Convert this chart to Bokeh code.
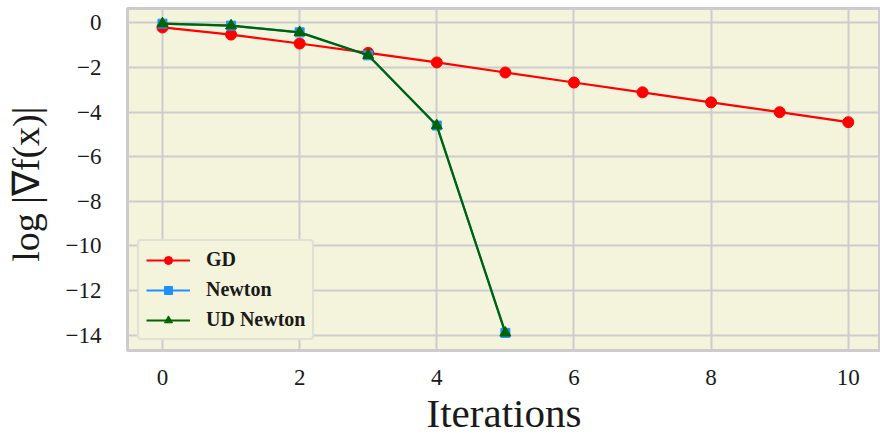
from bokeh.plotting import figure
from bokeh.models import FixedTicker, CustomJSTickFormatter, Range1d, Legend, LegendItem
from bokeh.embed import file_html
from bokeh.resources import INLINE

iterations = [0, 1, 2, 3, 4, 5, 6, 7, 8, 9, 10]
gd = [-0.2, -0.52, -0.92, -1.34, -1.77, -2.22, -2.67, -3.11, -3.56, -4.0, -4.45]
newton_iter = [0, 1, 2, 3, 4, 5]
newton = [-0.03, -0.12, -0.42, -1.45, -4.6, -13.9]
ud_newton = [-0.03, -0.12, -0.42, -1.45, -4.6, -13.9]
x_ticks = [0, 2, 4, 6, 8, 10]
y_ticks = [0, -2, -4, -6, -8, -10, -12, -14]
y_tick_labels = {0: "0", -2: "−2", -4: "−4", -6: "−6", -8: "−8", -10: "−10", -12: "−12", -14: "−14"}

SERIF = "Liberation Serif"
BG = "#f4f4dc"
GRID = "#cccccc"
TXT = "#1a1a1a"

p = figure(width=880, height=439, output_backend="svg", toolbar_location=None,
           x_range=Range1d(-0.51, 10.47), y_range=Range1d(-14.69, 0.65),
           min_border_left=127, min_border_right=0, min_border_top=8, min_border_bottom=89)
p.background_fill_color = BG
p.border_fill_color = "white"
p.outline_line_color = GRID
p.outline_line_width = 3

p.xgrid.grid_line_color = GRID
p.ygrid.grid_line_color = GRID
p.xgrid.grid_line_width = 2
p.ygrid.grid_line_width = 2

p.xaxis.ticker = FixedTicker(ticks=x_ticks)
p.yaxis.ticker = FixedTicker(ticks=y_ticks)
p.yaxis.major_label_overrides = y_tick_labels

p.axis.axis_line_color = None
p.axis.major_tick_line_color = None
p.axis.minor_tick_line_color = None
p.axis.major_label_text_font = SERIF
p.axis.major_label_text_font_size = "23px"
p.axis.major_label_text_color = TXT
p.axis.axis_label_text_font = SERIF
p.axis.axis_label_text_font_style = "normal"
p.axis.axis_label_text_color = TXT

p.xaxis.major_label_standoff = 13
p.yaxis.major_label_standoff = 20
p.xaxis.axis_label = "Iterations"
p.yaxis.axis_label = "log  |∇f(x)|"
p.xaxis.axis_label_text_font_size = "41px"
p.yaxis.axis_label_text_font_size = "38px"
p.xaxis.axis_label_standoff = 2
p.yaxis.axis_label_standoff = 16

l1 = p.line(iterations, gd, line_color="red", line_width=2.2)
m1 = p.scatter(iterations, gd, marker="circle", size=11, fill_color="red", line_color="red")
l2 = p.line(newton_iter, newton, line_color="#1e90ff", line_width=2.2)
m2 = p.scatter(newton_iter, newton, marker="square", size=9, fill_color="#1e90ff", line_color="#1e90ff")
l3 = p.line(newton_iter, ud_newton, line_color="#006400", line_width=2.2)
m3 = p.scatter(newton_iter, ud_newton, marker="triangle", size=11, fill_color="#006400", line_color="#006400")

legend = Legend(items=[
    LegendItem(label="GD", renderers=[l1, m1]),
    LegendItem(label="Newton", renderers=[l2, m2]),
    LegendItem(label="UD Newton", renderers=[l3, m3]),
], location=(10, 10))
legend.background_fill_color = BG
legend.background_fill_alpha = 1
legend.border_line_color = GRID
legend.border_line_width = 2
legend.border_radius = 4
legend.label_text_font = SERIF
legend.label_text_font_style = "bold"
legend.label_text_font_size = "20px"
legend.label_text_color = TXT
legend.glyph_width = 44
legend.glyph_height = 20
legend.label_standoff = 16
legend.spacing = 7
legend.padding = 7
legend.margin = 0
p.add_layout(legend, "center")

open("out.html", "w").write(file_html(p, INLINE))
